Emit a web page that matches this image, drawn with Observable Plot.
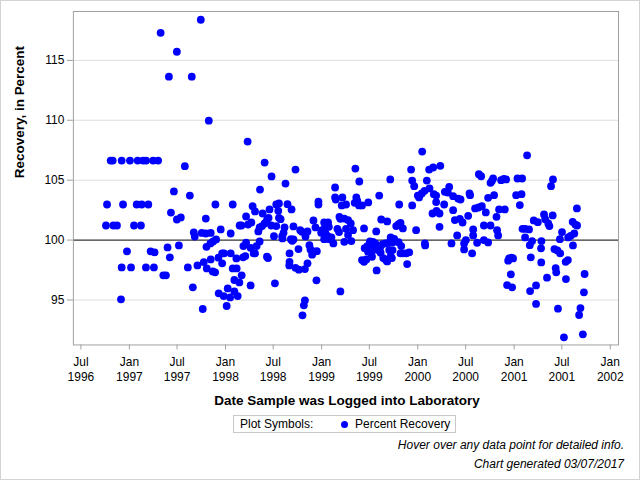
<!DOCTYPE html>
<html><head><meta charset="utf-8">
<script src="https://cdn.jsdelivr.net/npm/d3@7"></script>
<script src="https://cdn.jsdelivr.net/npm/@observablehq/plot@0.6"></script>
<style>
body{margin:0;background:#fff;}
#wrap{position:relative;width:640px;height:480px;box-sizing:border-box;border:1px solid #d3d3d3;font-family:"Liberation Sans",Arial,sans-serif;overflow:hidden;background:#fff;}
#chart{position:absolute;left:-1px;top:-1px;}
#xtitle{position:absolute;left:72px;width:548px;top:392px;line-height:16px;text-align:center;font-weight:bold;font-size:13.5px;color:#000;}
#legend{position:absolute;left:232px;top:414px;width:221px;height:16px;border:1px solid #c8c8c8;font-size:12px;line-height:16px;color:#000;white-space:nowrap;}
#legend .lab{position:absolute;left:6px;top:0;}
#legend .dot{position:absolute;left:107px;top:5px;width:7px;height:7px;border-radius:50%;background:#0000ff;}
#legend .ser{position:absolute;left:121px;top:0;}
.note{position:absolute;right:15px;font-style:italic;font-size:12px;line-height:16px;color:#000;white-space:nowrap;}
</style></head>
<body>
<div id="wrap">
  <div id="chart"></div>
  <div id="xtitle"></div>
  <div id="legend"><span class="lab"></span><span class="dot"></span><span class="ser"></span></div>
  <div class="note" id="note1" style="top:436px"></div>
  <div class="note" id="note2" style="top:455px"></div>
</div>
<script>
// Date samples were logged (decimal years) and recovery values (percent)
const sampleYear = [
1996.757,1996.768,1996.806,1996.827,1996.834,1996.871,1996.913,1996.920,1996.920,1996.934,
1996.975,1997.006,1997.017,1997.048,1997.076,1997.086,1997.120,1997.128,1997.143,1997.172,
1997.174,1997.197,1997.221,1997.247,1997.255,1997.262,1997.299,1997.325,1997.353,1997.380,
1997.397,1997.411,1997.421,1997.432,1997.463,1997.494,1997.494,1997.515,1997.535,1997.577,
1997.608,1997.629,1997.649,1997.660,1997.670,1997.680,1997.708,1997.743,1997.753,1997.763,
1997.774,1997.795,1997.795,1997.802,1997.805,1997.826,1997.843,1997.846,1997.846,1997.867,
1997.871,1997.892,1997.895,1997.902,1997.926,1997.929,1997.950,1997.965,1997.965,1997.981,
1997.985,1998.012,1998.023,1998.048,1998.054,1998.054,1998.075,1998.075,1998.092,1998.092,
1998.113,1998.116,1998.127,1998.144,1998.147,1998.165,1998.168,1998.183,1998.186,1998.206,
1998.214,1998.214,1998.230,1998.234,1998.261,1998.261,1998.269,1998.282,1998.293,1998.307,
1998.307,1998.324,1998.341,1998.355,1998.359,
1998.380,1998.355,1998.386,1998.407,1998.407,1998.431,1998.431,1998.442,1998.448,1998.458,
1998.476,1998.479,1998.504,1998.514,1998.528,1998.528,1998.549,1998.556,1998.556,1998.573,
1998.590,1998.593,1998.604,1998.614,1998.624,1998.645,1998.666,1998.666,1998.663,1998.680,
1998.687,1998.694,1998.707,1998.707,1998.728,1998.728,1998.759,1998.763,1998.777,1998.795,
1998.801,1998.815,1998.826,1998.826,1998.832,1998.853,1998.853,1998.873,1998.884,1998.901,
1998.915,1998.925,1998.936,1998.946,1998.950,1998.967,1998.967,1998.995,1999.005,1999.026,
1999.026,1999.036,1999.039,1999.064,1999.067,1999.075,1999.078,1999.102,1999.122,1999.140,
1999.140,1999.147,1999.164,1999.181,1999.185,1999.195,1999.195,1999.209,1999.216,1999.236,
1999.236,1999.254,1999.254,1999.275,1999.275,1999.303,1999.309,1999.327,1999.344,1999.351,
1999.361,1999.371,1999.389,1999.392,1999.420,1999.420,1999.441,1999.441,1999.448,1999.465,
1999.475,1999.482,1999.485,1999.503,1999.516,1999.524,1999.534,1999.544,1999.558,1999.568,
1999.572,1999.586,1999.599,1999.607,1999.614,1999.620,1999.635,1999.641,1999.662,1999.669,
1999.682,1999.682,1999.700,1999.703,1999.714,1999.718,1999.718,1999.731,1999.738,1999.742,
1999.755,1999.776,1999.801,1999.801,1999.807,1999.821,1999.821,1999.828,1999.845,1999.848,
1999.880,1999.890,1999.911,1999.931,1999.942,1999.942,1999.963,1999.983,2000.001,2000.014,
2000.042,2000.046,2000.070,2000.074,2000.077,2000.094,2000.118,2000.122,2000.153,2000.160,
2000.167,2000.191,2000.191,2000.195,2000.226,2000.226,2000.234,2000.274,2000.281,2000.312,
2000.326,2000.350,2000.367,2000.367,2000.385,2000.409,2000.419,2000.437,2000.444,2000.465,
2000.481,2000.481,2000.499,2000.523,2000.537,2000.543,2000.564,2000.575,2000.575,2000.595,
2000.616,2000.631,2000.634,2000.658,2000.665,2000.686,2000.686,2000.706,2000.730,2000.730,
2000.755,2000.755,2000.769,2000.782,2000.792,2000.817,2000.823,2000.834,2000.844,2000.865,
2000.893,2000.903,2000.917,2000.927,2000.938,2000.948,2000.966,2000.973,2000.979,2000.989,
2001.021,2001.035,2001.059,2001.077,2001.083,2001.087,2001.114,2001.114,2001.135,2001.155,
2001.163,2001.173,2001.166,2001.187,2001.204,2001.228,2001.228,2001.246,2001.280,2001.284,
2001.282,2001.311,2001.323,2001.342,2001.355,2001.367,2001.384,2001.401,2001.404,2001.419,
2001.432,2001.438,2001.450,2001.456,2001.476,2001.479,2001.498,2001.518,2001.536,2001.539,
2001.559,2001.562,2001.588,2001.609,2001.612,2001.626,2001.637,2001.655,2001.653,2001.676,
2001.690,2001.715,2001.726,2001.733
];
const recovery = [
101.22,102.97,106.64,106.64,101.22,101.22,95.06,106.64,97.72,102.97,
99.06,106.64,97.72,101.22,102.97,106.64,101.22,102.97,106.64,97.72,
106.64,102.97,99.06,106.64,97.72,98.97,106.64,117.3,97.06,97.06,
99.39,113.64,98.56,102.3,104.06,115.72,101.72,99.56,101.89,106.17,
97.72,103.72,113.64,96.06,100.64,100.3,97.89,118.39,100.6,94.25,
98.17,101.8,100.55,99.44,97.64,109.97,99.72,100.6,98.39,97.39,
99.89,97.31,102.97,100.06,98.53,95.56,100.89,98.89,98.06,95.33,
98.89,94.5,95.97,95.22,100.55,98.89,102.97,97.64,96.67,95.72,
98.47,97.64,95.33,96.47,101.22,101.22,97.06,98.56,99.5,98.67,
99.78,101.97,108.22,101.3,99.36,96.22,101.47,102.83,98.89,102.39,
98.89,99.5,100.72,99.89,104.22,
101.17,101.06,102.22,106.47,101.39,101.67,98.61,98.5,101.86,102.56,
101.22,105.31,100.33,96.39,102.97,101.17,102.44,103.06,101.86,101.75,
100.33,100.14,100.61,101.06,104.72,103.0,98.89,98.19,97.89,100.08,
102.56,99.94,100.06,101.14,105.89,97.69,99.25,97.53,100.83,100.69,
93.72,94.56,94.97,97.58,100.31,100.72,98.06,99.58,99.22,98.78,
101.64,99.03,101.06,96.64,99.08,103.22,102.97,100.61,100.83,101.47,
100.08,101.06,100.61,100.33,101.47,101.11,100.08,100.22,99.72,104.39,
103.56,103.39,100.94,100.67,101.94,101.78,95.72,102.89,103.56,101.8,
99.86,102.97,100.94,100.42,101.67,101.39,99.92,100.83,103.11,105.97,
103.56,103.28,102.89,104.89,102.89,98.33,100.97,98.19,99.33,98.39,
99.5,99.03,103.14,99.89,98.89,98.61,99.86,99.44,99.72,100.72,
97.47,99.17,103.72,99.33,98.94,101.72,99.67,98.5,99.72,98.33,
101.56,98.22,99.78,99.17,105.06,100.22,98.67,98.5,99.17,99.83,
100.11,101.17,101.33,99.83,102.97,101.44,98.89,99.5,100.97,98.89,
98.89,98.0,98.97,105.89,104.97,102.89,104.5,100.83,103.72,103.56,
103.89,107.39,104.11,99.72,99.56,104.97,105.89,104.31,102.22,106.06,
103.83,103.72,103.17,102.44,101.11,102.22,106.2,102.97,104.03,103.97,
104.44,99.72,103.67,102.5,101.67,100.39,103.47,101.78,103.39,101.47,
99.72,99.22,100.0,102.03,103.89,103.75,98.89,100.89,100.39,102.64,
99.78,102.72,105.5,105.33,102.83,101.22,100.0,102.31,103.53,99.81,
104.78,101.22,104.94,105.14,103.75,101.94,100.83,100.39,102.56,105.0,
105.11,102.56,105.06,96.25,98.28,98.47,97.14,98.53,96.06,98.47,
103.75,105.14,102.92,103.83,105.14,100.94,100.94,100.22,107.08,100.89,
99.58,98.56,95.75,99.92,101.64,96.22,94.67,101.5,99.31,99.92,
98.14,102.14,101.75,96.86,101.39,101.17,104.5,102.06,105.06,99.25,
97.67,97.31,99.14,94.28,100.08,98.89,100.67,91.89,98.19,96.75,
98.33,100.22,100.36,101.53,99.56,100.55,101.3,101.22,102.64,93.75,
94.33,92.14,95.64,97.17
];
const yTicks = [95, 100, 105, 110, 115];
const xTicks = ["1996-07-01","1997-01-01","1997-07-01","1998-01-01","1998-07-01","1999-01-01",
                "1999-07-01","2000-01-01","2000-07-01","2001-01-01","2001-07-01","2002-01-01"];
const monthNames = ["Jan","Feb","Mar","Apr","May","Jun","Jul","Aug","Sep","Oct","Nov","Dec"];
const referenceValue = 100;
const yTitle = "Recovery, in Percent";
const xTitle = "Date Sample was Logged into Laboratory";
const legendLabel = "Plot Symbols:";
const seriesName = "Percent Recovery";
const note1 = "Hover over any data point for detailed info.";
const note2 = "Chart generated 03/07/2017";

const toDate = t => { const y = Math.floor(t); const a = Date.UTC(y,0,1), b = Date.UTC(y+1,0,1); return new Date(a + (t - y) * (b - a)); };
const n = Math.min(sampleYear.length, recovery.length);
const data = d3.range(n).map(i => ({date: toDate(sampleYear[i]), value: recovery[i]}));
const xTickDates = xTicks.map(s => new Date(s));

const chart = Plot.plot({
  width: 640, height: 392,
  marginTop: 11, marginRight: 21, marginBottom: 47, marginLeft: 73,
  style: {fontFamily: "'Liberation Sans', Arial, sans-serif", fontSize: "12px", color: "#000", background: "transparent", overflow: "visible"},
  x: {type: "utc", domain: [toDate(1996.419), toDate(2002.086)]},
  y: {domain: [91.25, 119.08]},
  marks: [
    Plot.gridY(yTicks.filter(v => v !== referenceValue), {stroke: "#dedede", strokeOpacity: 1}),
    Plot.ruleY([referenceValue], {stroke: "#000", strokeWidth: 1}),
    Plot.dot(data, {x: "date", y: "value", r: 3.9, fill: "#0000ff", stroke: "none"}),
    Plot.frame({stroke: "#a0a0a0"}),
    Plot.axisY(yTicks, {tickSize: 6, tickPadding: 3, stroke: "#a0a0a0", fill: "#000", label: null, fontSize: 12}),
    Plot.axisX(xTickDates, {tickSize: 5, tickPadding: 5, stroke: "#a0a0a0", fill: "#000", label: null, fontSize: 12, lineHeight: 1.25,
      tickFormat: d => `${monthNames[d.getUTCMonth()]}\n${d.getUTCFullYear()}`}),
    Plot.text([yTitle], {frameAnchor: "left", rotate: -90, dx: -54, fontWeight: "bold", fontSize: 13.5, fill: "#000"})
  ]
});
document.getElementById("chart").appendChild(chart);
document.getElementById("xtitle").textContent = xTitle;
document.querySelector("#legend .lab").textContent = legendLabel;
document.querySelector("#legend .ser").textContent = seriesName;
document.getElementById("note1").textContent = note1;
document.getElementById("note2").textContent = note2;
</script>
</body></html>
